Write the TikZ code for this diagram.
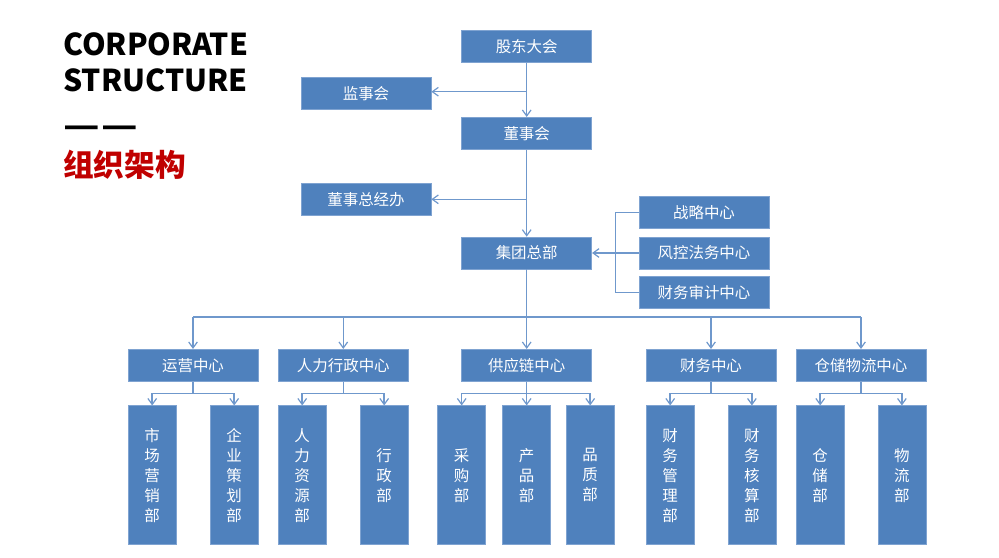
\documentclass[tikz,border=0pt]{standalone}
\usepackage{fontspec}
\setmainfont{Noto Sans CJK SC}
\usetikzlibrary{arrows.meta}
\definecolor{boxblue}{HTML}{4F81BD}
\definecolor{boxedge}{HTML}{7FA3D1}
\definecolor{linec}{HTML}{6F98CC}
\definecolor{titlered}{HTML}{C00000}
\tikzset{
  hbox/.style={rectangle, fill=boxblue, draw=boxedge, line width=0.5pt, text=white,
    minimum width=97.5pt, minimum height=24pt, inner sep=0pt, font=\fontsize{11.6}{13}\selectfont},
  vbox/.style={rectangle, fill=boxblue, draw=boxedge, line width=0.5pt, text=white,
    minimum width=36pt, minimum height=104.25pt, inner sep=0pt, align=center,
    font=\fontsize{11.6}{15}\selectfont},
  conn/.style={draw=linec, line width=1.1pt},
  arr/.style={conn, -{Straight Barb[length=4.5pt,width=6.5pt,line width=0.9pt]}},
  ttl/.style={anchor=base west, inner sep=0pt, font=\fontsize{22.6}{26}\bfseries\selectfont}
}
\begin{document}
\begin{tikzpicture}[x=0.75pt,y=-0.75pt]
\useasboundingbox (0,0) rectangle (999,557);
% title
\node[ttl] (t1) at (63,55) {CORPORATE};
\node[ttl] (t2) at (63,91.7) {STRUCTURE};
\node[ttl, font=\fontsize{25}{28}\bfseries\selectfont] (t3) at (63,137) {\scalebox{1.2}[1]{—}\kern1pt\scalebox{1.2}[1]{—}};
\node[ttl, text=titlered, font=\fontsize{23}{26}\bfseries\selectfont] (t4) at (63,176.5) {组织架构};
% top chain
\node[hbox] (gd) at (526.7,46.7) {股东大会};
\node[hbox] (js) at (366,93.3) {监事会};
\node[hbox] (ds) at (526.7,133.3) {董事会};
\node[hbox] (zj) at (366,199.5) {董事总经办};
\node[hbox] (jt) at (526.7,253) {集团总部};
\node[hbox] (zl) at (704,212.3) {战略中心};
\node[hbox] (fk) at (704,253) {风控法务中心};
\node[hbox] (sj) at (704,292.7) {财务审计中心};
% centers
\node[hbox] (yy) at (193,365.3) {运营中心};
\node[hbox] (rl) at (343.3,365.3) {人力行政中心};
\node[hbox] (gy) at (526.7,365.3) {供应链中心};
\node[hbox] (cw) at (711,365.3) {财务中心};
\node[hbox] (cc) at (861,365.3) {仓储物流中心};
% departments
\node[vbox] (d1) at (152.2,475.3) {市\\场\\营\\销\\部};
\node[vbox] (d2) at (234.2,475.3) {企\\业\\策\\划\\部};
\node[vbox] (d3) at (302.2,475.3) {人\\力\\资\\源\\部};
\node[vbox] (d4) at (384.2,475.3) {行\\政\\部};
\node[vbox] (d5) at (461.7,475.3) {采\\购\\部};
\node[vbox] (d6) at (526.7,475.3) {产\\品\\部};
\node[vbox] (d7) at (590.2,475.3) {品\\质\\部};
\node[vbox] (d8) at (670.2,475.3) {财\\务\\管\\理\\部};
\node[vbox] (d9) at (751.9,475.3) {财\\务\\核\\算\\部};
\node[vbox] (d10) at (820.2,475.3) {仓\\储\\部};
\node[vbox] (d11) at (901.9,475.3) {物\\流\\部};
% top connectors
\draw[arr] (gd.south) -- (ds.north);
\coordinate (j1) at (gd.south |- 0,91.7);
\draw[arr] (j1) -- (js.east |- j1);
\draw[arr] (ds.south) -- (jt.north);
\coordinate (j2) at (ds.south |- 0,199.3);
\draw[arr] (j2) -- (zj.east |- j2);
% right bracket
\coordinate (br) at (615.7,0);
\draw[conn] (zl.west) -- (br |- zl.west) -- (br |- sj.west) -- (sj.west);
\draw[arr] (fk.west) -- (jt.east);
% bus
\coordinate (bus) at (0,317);
\draw[conn] (jt.south) -- (jt.south |- bus);
\draw[conn] (yy.north |- bus) -- (cc.north |- bus);
\foreach \c in {yy,rl,gy,cw,cc}{
  \draw[arr] (\c.north |- bus) -- (\c.north);
}
% sub buses
\coordinate (sb) at (0,393.3);
\foreach \c/\a/\b in {yy/d1/d2, rl/d3/d4, cw/d8/d9, cc/d10/d11}{
  \draw[conn] (\c.south) -- (\c.south |- sb);
  \draw[arr] (\c.south |- sb) -| (\a.north);
  \draw[arr] (\c.south |- sb) -| (\b.north);
}
\draw[conn] (gy.south) -- (gy.south |- sb);
\draw[arr] (gy.south |- sb) -| (d5.north);
\draw[arr] (gy.south |- sb) -| (d7.north);
\draw[arr] (gy.south |- sb) -- (d6.north);
\end{tikzpicture}
\end{document}
